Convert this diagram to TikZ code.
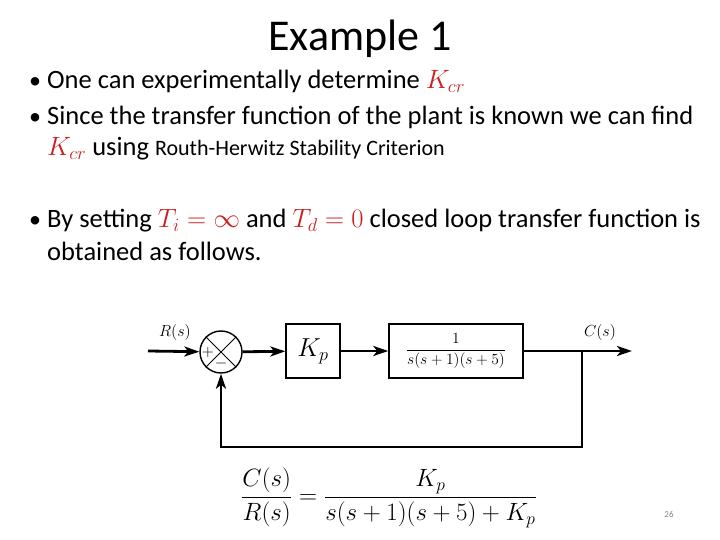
\RequirePackage{fix-cm}
\documentclass[tikz,border=0pt]{standalone}
\usepackage{amsmath,amssymb}
\usepackage{fontspec}
\setmainfont{Carlito}
\usetikzlibrary{arrows.meta, positioning, calc}
\definecolor{kred}{RGB}{204,30,30}
\newcommand{\rd}[1]{\textcolor{kred}{$#1$}}

\begin{document}
\begin{tikzpicture}[x=1pt, y=-1pt,
    blk/.style={draw, line width=1.4pt, minimum height=54pt, inner sep=0pt},
    sig/.style={line width=2.8pt, -{Stealth[length=15pt, width=10pt, inset=4pt]}},
    txt/.style={font=\fontsize{26.5}{30}\selectfont, anchor=base west, inner sep=0pt},
    bul/.style={font=\fontsize{24}{28}\selectfont, anchor=base, inner sep=0pt},
    lbl/.style={font=\fontsize{16}{18}\selectfont}
]
    \useasboundingbox (0,0) rectangle (720,540);
    \node[font=\fontsize{44}{50}\selectfont, anchor=base] (title) at (360,51) {Example 1};
    % bullets
    \node[bul] (b1) at (35,89) {•};
    \node[bul] (b2) at (35,125) {•};
    \node[bul] (b3) at (35,228) {•};
    \node[txt] (l1) at (47,89) {One can experimentally determine \rd{K_{cr}}};
    \node[txt] (l2) at (47,125) {Since the transfer function of the plant is known we can find};
    \node[txt] (l3) at (47,156) {\rd{K_{cr}} using {\fontsize{22}{26}\selectfont Routh-Herwitz Stability Criterion}};
    \node[txt] (l4) at (47,228) {By setting \rd{T_i=\infty} and \rd{T_d=0} closed loop transfer function is};
    \node[txt] (l5) at (47,260) {obtained as follows.};
    % block diagram
    \node[circle, draw, line width=1.4pt, minimum size=42pt, inner sep=0pt] (sum) at (221,352) {};
    \draw[line width=0.8pt] (sum.north west) -- (sum.south east);
    \draw[line width=0.8pt] (sum.north east) -- (sum.south west);
    \node[lbl, inner sep=0pt] (plus) at ($(sum.center)+(-13,0)$) {$+$};
    \node[lbl, inner sep=0pt] (minus) at ($(sum.center)+(0,11)$) {$-$};
    \node[blk, minimum width=54pt, font=\fontsize{26}{30}\selectfont] (kp) at (313,351) {$K_p$};
    \node[blk, minimum width=134pt, font=\fontsize{15.5}{18}\selectfont] (plant) at (456,351) {$\dfrac{1}{s(s+1)(s+5)}$};
    \coordinate (rin) at (148,351);
    \coordinate (cout) at (632,351);
    \coordinate (tap) at (582,351);
    \coordinate (fb) at (221,447);
    \draw[sig] (rin) -- (sum);
    \draw[sig] (sum) -- (kp);
    \draw[sig] (kp) -- (plant);
    \draw[sig] (plant) -- (cout);
    \draw[sig] (tap) |- (fb) -- (sum);
    \node[lbl] (rs) at (175,332) {$R(s)$};
    \node[lbl] (cs) at (600,332) {$C(s)$};
    % closed loop
    \node[font=\fontsize{25}{30}\selectfont] (tf) at (389,498) {$\dfrac{C(s)}{R(s)}=\dfrac{K_p}{s(s+1)(s+5)+K_p}$};
    \node[font=\fontsize{9}{10}\selectfont, text=gray] (pg) at (669,514) {26};
\end{tikzpicture}
\end{document}
